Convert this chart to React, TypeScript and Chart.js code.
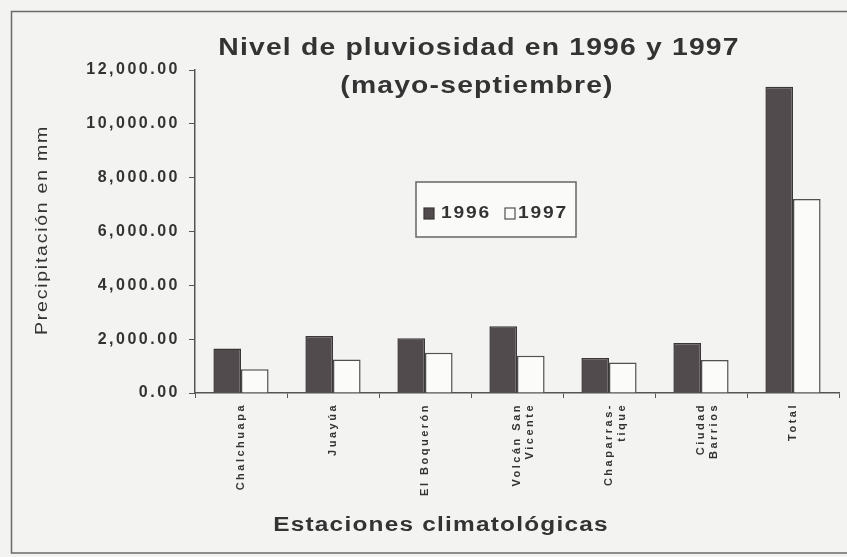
import React, { useEffect, useRef } from 'react';
import { Chart, registerables } from 'chart.js';

Chart.register(...registerables);

const categories: (string | string[])[] = [
  'Chalchuapa',
  'Juayúa',
  'El Boquerón',
  ['Volcán San', 'Vicente'],
  ['Chaparras-', 'tique'],
  ['Ciudad', 'Barrios'],
  'Total',
];
const seriesLabels = ['1996', '1997'];
const values1996 = [1650, 2120, 2030, 2480, 1300, 1860, 11380];
const values1997 = [880, 1240, 1500, 1380, 1130, 1230, 7210];
const yMin = 0;
const yMax = 12000;
const yStep = 2000;
const titleLines = ['Nivel de pluviosidad en 1996 y 1997', '(mayo-septiembre)'];
const yTitle = 'Precipitación en mm';
const xTitle = 'Estaciones climatológicas';

const BG = '#f3f3f1';
const TEXT = '#333333';
const FONT = '"Liberation Sans", Arial, sans-serif';
const DARK = '#524b4d';
const DARK_BORDER = '#3b3537';
const LIGHT = '#fbfbfa';
const LIGHT_BORDER = '#505050';

function stretchedText(ctx: any, text: string, x: number, y: number, sx: number, spacing: number) {
  ctx.save();
  ctx.translate(x, y);
  ctx.scale(sx, 1);
  ctx.letterSpacing = spacing + 'px';
  ctx.fillText(text, 0, 0);
  ctx.restore();
}

const decorPlugin = {
  id: 'decor',
  beforeDraw(chart: any) {
    const ctx = chart.ctx;
    ctx.save();
    ctx.fillStyle = BG;
    ctx.fillRect(0, 0, chart.width, chart.height);
    ctx.restore();
    ctx.letterSpacing = '2.5px';
  },
  afterDraw(chart: any) {
    const ctx = chart.ctx;
    ctx.save();
    // frame
    ctx.strokeStyle = '#6a6a6a';
    ctx.lineWidth = 1.5;
    ctx.beginPath();
    ctx.moveTo(chart.width + 5, 11.5);
    ctx.lineTo(11.5, 11.5);
    ctx.lineTo(11.5, 553);
    ctx.lineTo(chart.width + 5, 553);
    ctx.stroke();

    // title
    ctx.fillStyle = TEXT;
    ctx.textAlign = 'center';
    ctx.textBaseline = 'middle';
    ctx.font = `bold 24px ${FONT}`;
    stretchedText(ctx, titleLines[0], 479, 48, 1.18, 1);
    stretchedText(ctx, titleLines[1], 477, 86, 1.18, 1);

    // x title
    ctx.font = `bold 20px ${FONT}`;
    stretchedText(ctx, xTitle, 441, 525, 1.22, 1);

    // y title
    ctx.save();
    ctx.translate(42, 230);
    ctx.rotate(-Math.PI / 2);
    ctx.font = `17px ${FONT}`;
    stretchedText(ctx, yTitle, 0, 0, 1.15, 1.5);
    ctx.restore();

    // legend box
    ctx.strokeStyle = '#666';
    ctx.lineWidth = 1.5;
    ctx.fillStyle = '#fafaf9';
    ctx.fillRect(416, 182, 160, 55);
    ctx.strokeRect(416, 182, 160, 55);
    const ds = chart.data.datasets;
    const items = [
      { sx: 424, tx: 441 },
      { sx: 505, tx: 518 },
    ];
    ctx.font = `bold 16px ${FONT}`;
    ctx.textAlign = 'left';
    ctx.textBaseline = 'middle';
    items.forEach((it, i) => {
      ctx.fillStyle = ds[i].backgroundColor;
      ctx.strokeStyle = ds[i].borderColor;
      ctx.lineWidth = 1.2;
      ctx.fillRect(it.sx, 208, 10, 11);
      ctx.strokeRect(it.sx, 208, 10, 11);
      ctx.fillStyle = TEXT;
      stretchedText(ctx, ds[i].label, it.tx, 214, 1.2, 1.5);
    });
    ctx.restore();
    ctx.letterSpacing = '0px';
  },
};

export default function App() {
  const ref = useRef<HTMLCanvasElement | null>(null);
  useEffect(() => {
    document.body.style.margin = '0';
    const canvas = ref.current!;
    const chart = new Chart(canvas, {
      type: 'bar',
      data: {
        labels: categories as any,
        datasets: [
          {
            label: seriesLabels[0],
            data: values1996,
            backgroundColor: DARK,
            borderColor: DARK_BORDER,
            borderWidth: 1.5,
            categoryPercentage: 0.6,
            barPercentage: 1.0,
          },
          {
            label: seriesLabels[1],
            data: values1997,
            backgroundColor: LIGHT,
            borderColor: LIGHT_BORDER,
            borderWidth: 1.5,
            categoryPercentage: 0.6,
            barPercentage: 1.0,
          },
        ],
      },
      options: {
        responsive: false,
        animation: false,
        devicePixelRatio: 1,
        layout: { padding: { left: 0, top: 70, right: 8, bottom: 0 } },
        plugins: {
          legend: { display: false },
          title: { display: false },
          tooltip: { enabled: false },
        },
        scales: {
          x: {
            offset: true,
            grid: {
              display: true,
              offset: true,
              drawOnChartArea: false,
              drawTicks: true,
              tickLength: 5,
              color: '#555',
            },
            border: { display: true, color: '#555', width: 1.5 },
            ticks: {
              autoSkip: false,
              minRotation: 90,
              maxRotation: 90,
              padding: 5,
              color: TEXT,
              font: { family: FONT, size: 11, weight: 'bold' },
            },
            afterFit(scale: any) {
              scale.height = 557 - 393;
            },
          },
          y: {
            min: yMin,
            max: yMax,
            grid: {
              display: true,
              drawOnChartArea: false,
              drawTicks: true,
              tickLength: 6,
              color: '#555',
            },
            border: { display: true, color: '#555', width: 1.5 },
            ticks: {
              stepSize: yStep,
              padding: 9,
              color: TEXT,
              font: { family: FONT, size: 16, weight: 'bold' },
              callback: (v: any) =>
                Number(v).toLocaleString('en-US', {
                  minimumFractionDigits: 2,
                  maximumFractionDigits: 2,
                }),
            },
            afterFit(scale: any) {
              scale.width = 195;
            },
          },
        },
      },
      plugins: [decorPlugin],
    });
    return () => chart.destroy();
  }, []);
  return (
    <div style={{ width: 847, height: 557 }}>
      <canvas ref={ref} width={847} height={557} style={{ display: 'block' }} />
    </div>
  );
}
